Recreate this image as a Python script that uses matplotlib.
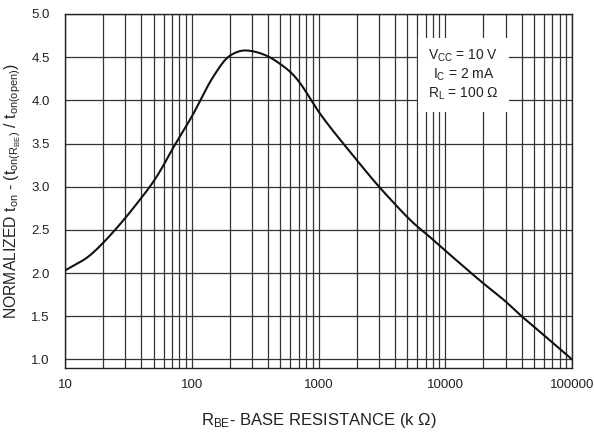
import matplotlib
matplotlib.use("Agg")
import matplotlib.pyplot as plt
from matplotlib.ticker import FixedLocator, NullFormatter
import numpy as np

plt.rcParams['font.family'] = ['Liberation Sans', 'DejaVu Sans']
plt.rcParams['mathtext.fontset'] = 'custom'
plt.rcParams['mathtext.rm'] = 'Liberation Sans'
plt.rcParams['mathtext.it'] = 'Liberation Sans'
plt.rcParams['mathtext.default'] = 'regular'

# R_BE (k ohm) vs normalized t_on
r_be = [10, 15, 20, 30, 40, 50, 60, 70, 100, 150, 200, 260, 300, 400, 500,
        600, 700, 1000, 2000, 3000, 4000, 5000, 6000, 7000, 10000, 20000,
        30000, 40000, 50000, 100000]
t_on_norm = [2.03, 2.18, 2.35, 2.64, 2.87, 3.06, 3.25, 3.43, 3.81, 4.29, 4.52,
             4.58, 4.57, 4.51, 4.42, 4.33, 4.22, 3.87, 3.31, 3.0, 2.80,
             2.65, 2.54, 2.46, 2.26, 1.88, 1.67, 1.5, 1.38, 1.0]

x_ticks = [10, 100, 1000, 10000, 100000]
x_tick_labels = ["10", "100", "1000", "10000", "100000"]
y_ticks = [1.0, 1.5, 2.0, 2.5, 3.0, 3.5, 4.0, 4.5, 5.0]


def pchip(x, y, xs):
    # monotone cubic interpolation (Fritsch-Carlson)
    x = np.asarray(x, float)
    y = np.asarray(y, float)
    h = np.diff(x)
    d = np.diff(y) / h
    m = np.zeros_like(y)
    for i in range(1, len(y) - 1):
        if d[i - 1] * d[i] > 0:
            w1 = 2 * h[i] + h[i - 1]
            w2 = h[i] + 2 * h[i - 1]
            m[i] = (w1 + w2) / (w1 / d[i - 1] + w2 / d[i])
    m[0] = d[0]
    m[-1] = d[-1]
    idx = np.clip(np.searchsorted(x, xs) - 1, 0, len(h) - 1)
    t = (xs - x[idx]) / h[idx]
    h00 = 2 * t**3 - 3 * t**2 + 1
    h10 = t**3 - 2 * t**2 + t
    h01 = -2 * t**3 + 3 * t**2
    h11 = t**3 - t**2
    return (h00 * y[idx] + h10 * h[idx] * m[idx]
            + h01 * y[idx + 1] + h11 * h[idx] * m[idx + 1])


fig = plt.figure(figsize=(5.94, 4.33), dpi=100)
ax = fig.add_axes([0.1094, 0.150, 0.8536, 0.8177])

lx = np.log10(r_be)
xs = np.linspace(lx[0], lx[-1], 800)
ys = pchip(lx, t_on_norm, xs)
# light smoothing to take out kinks between read points
k = 10
ker = np.exp(-0.5 * (np.arange(-k, k + 1) / (k / 2)) ** 2)
ker /= ker.sum()
pad_l = 2 * ys[0] - ys[k:0:-1]
pad_r = 2 * ys[-1] - ys[-2:-k - 2:-1]
ys_s = np.convolve(np.concatenate([pad_l, ys, pad_r]), ker, mode='valid')
ax.plot(10 ** xs, ys_s, color='#111111', lw=1.5, zorder=3)

ax.set_xscale('log')
ax.set_xlim(10, 100000)
ax.set_ylim(0.9, 5.0)

minor = [m * 10 ** d for d in range(1, 5) for m in range(2, 10)]
ax.xaxis.set_major_locator(FixedLocator(x_ticks))
ax.xaxis.set_minor_locator(FixedLocator(minor))
ax.xaxis.set_minor_formatter(NullFormatter())
ax.set_xticklabels(x_tick_labels)
ax.set_yticks(y_ticks)
ax.set_yticklabels([f"{v:.1f}" for v in y_ticks])

ax.grid(True, which='both', axis='x', color='#333333', lw=0.9)
ax.grid(True, which='major', axis='y', color='#333333', lw=0.9)
ax.tick_params(which='both', length=0, labelsize=9.5, colors='#222222')
ax.tick_params(axis='x', pad=8)
ax.tick_params(axis='y', pad=11)
for s in ax.spines.values():
    s.set_color('#222222')
    s.set_linewidth(1.0)

ax.set_xlabel(r"R$_{BE}$- BASE RESISTANCE (k Ω)", fontsize=12, color='#222222', labelpad=14)
ax.set_ylabel(r"NORMALIZED t$_{on}$ - (t$_{on(R_{BE})}$ / t$_{on(open)}$)",
              fontsize=11.3, color='#222222', labelpad=6)

ax.text(0.786, 0.828, "V$_{CC}$ = 10 V\nI$_{C}$ = 2 mA\nR$_{L}$ = 100 Ω",
        transform=ax.transAxes, ha='center', va='center', fontsize=10,
        color='#222222', linespacing=1.25, zorder=4,
        bbox=dict(facecolor='white', edgecolor='none', pad=7))

fig.savefig("out.png", dpi=100)
